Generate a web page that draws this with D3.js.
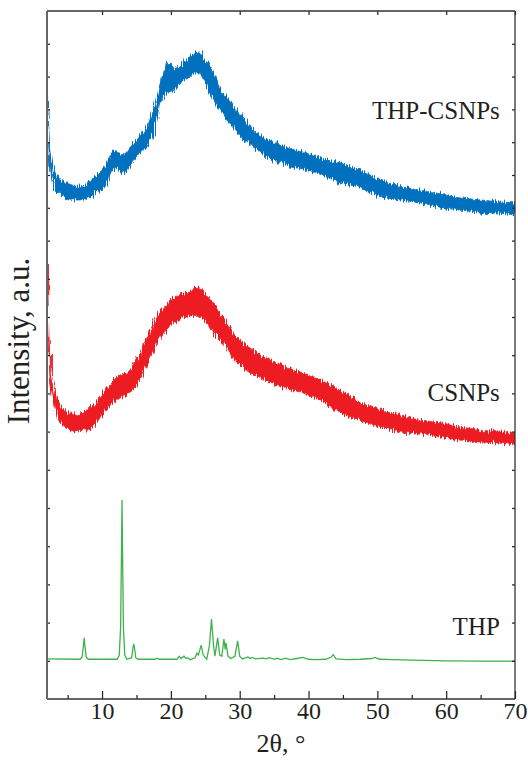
<!DOCTYPE html>
<html><head><meta charset="utf-8">
<script src="https://cdn.jsdelivr.net/npm/d3@7"></script>
<style>
html,body{margin:0;padding:0;background:#fff;}
text{font-family:"Liberation Serif","Times New Roman",serif;fill:#231f20;}
</style></head>
<body><svg id="chart" width="528" height="774"></svg>
<script>
// ---- data (intensity in a.u., one unit per y tick) ----
const xMajorTicks = [10, 20, 30, 40, 50, 60, 70];
const xMinorTicks = [5, 15, 25, 35, 45, 55, 65];
const yTicks = [1,2,3,4,5,6,7,8,9,10,11,12,13,14,15,16,17,18];
const seriesLabels = ["THP-CSNPs", "CSNPs", "THP"];

// THP-CSNPs (blue): 2θ, upper and lower edge of the noisy trace
const thpcsnpsX  = [2.05,2.2,2.4,2.7,3.2,3.9,4.5,5.3,6.0,6.8,7.5,8.3,9.0,9.7,10.7,11.3,11.8,12.3,12.9,13.6,14.5,15.5,16.5,17.5,18.4,19.0,19.4,20.4,21.3,22.3,23.3,24.2,25.2,26.2,27.1,28.1,29.1,30.0,32.0,33.9,35.9,37.3,40.0,42.0,44.6,47.5,50.4,53.3,56.2,59.1,62.0,64.9,67.8,70.0];
const thpcsnpsHi = [16.50,15.68,14.76,14.37,14.09,13.85,13.76,13.73,13.66,13.66,13.70,13.82,13.94,14.09,14.37,14.61,14.76,14.67,14.58,14.70,14.98,15.16,15.43,15.98,16.68,17.20,17.45,17.25,17.32,17.51,17.72,17.75,17.45,17.11,16.68,16.38,16.07,15.89,15.37,15.07,14.91,14.80,14.64,14.50,14.37,14.15,13.85,13.66,13.54,13.42,13.30,13.24,13.18,13.15];
const thpcsnpsLo = [16.13,15.07,14.30,13.91,13.54,13.39,13.30,13.27,13.24,13.24,13.27,13.33,13.42,13.54,13.70,14.09,14.27,14.15,14.06,14.09,14.37,14.67,14.85,15.28,16.20,16.44,16.53,16.55,16.77,16.96,17.11,17.11,16.68,16.29,15.98,15.68,15.46,15.16,14.85,14.55,14.37,14.25,14.15,14.00,13.76,13.63,13.33,13.24,13.15,13.02,12.93,12.87,12.84,12.78];

// CSNPs (red)
const csnpsX  = [2.05,2.2,2.4,2.7,3.2,3.9,4.5,5.3,6.0,6.8,7.5,8.3,9.0,9.7,10.5,11.2,12.0,12.6,13.3,14.1,15.5,17.0,18.4,19.9,21.4,22.8,23.8,25.0,26.4,27.9,29.3,30.8,33.0,35.9,38.8,41.7,44.6,47.5,50.4,53.3,56.2,59.1,62.0,64.9,67.8,70.0];
const csnpsHi = [11.41,10.00,8.95,8.43,8.01,7.70,7.57,7.49,7.43,7.46,7.51,7.62,7.75,7.93,8.09,8.22,8.40,8.48,8.51,8.61,9.01,9.66,10.13,10.45,10.58,10.65,10.79,10.60,10.31,9.92,9.53,9.27,9.01,8.74,8.56,8.35,8.09,7.75,7.57,7.43,7.30,7.23,7.12,7.04,6.99,6.96];
const csnpsLo = [10.84,9.53,8.48,7.96,7.57,7.25,7.12,7.04,6.99,7.02,7.04,7.09,7.20,7.36,7.57,7.70,7.83,7.88,7.93,8.01,8.35,8.93,9.45,9.79,9.97,10.03,10.05,9.92,9.53,9.27,8.87,8.61,8.40,8.19,8.04,7.83,7.49,7.30,7.12,6.99,6.96,6.86,6.78,6.73,6.70,6.65];

// THP (green) powder pattern
const thpX = [2.0,6.8,7.1,7.3,7.4,7.5,7.7,8.0,12.2,12.5,12.7,12.85,12.9,12.95,13.1,13.3,13.6,14.3,14.5,14.6,14.7,14.9,15.2,17.7,18.0,18.3,20.9,21.2,21.5,21.9,22.2,22.4,22.8,23.5,23.8,24.0,24.4,24.7,25.2,25.6,25.9,26.2,26.4,26.8,27.1,27.4,27.7,27.9,28.0,28.3,28.7,29.3,29.7,30.0,30.4,31.2,31.5,31.8,32.3,33.4,33.9,34.3,35.1,35.4,36.0,36.7,37.3,38.3,39.2,40.0,41.0,42.5,43.3,43.6,44.0,45.5,47.5,49.2,49.7,50.3,52.3,55.0,60.0,65.0,70.0];
const thpY = [1.05,1.04,1.10,1.40,1.60,1.40,1.10,1.04,1.04,1.15,1.90,4.30,5.21,4.30,1.90,1.15,1.04,1.08,1.35,1.44,1.35,1.08,1.04,1.04,1.07,1.04,1.04,1.12,1.06,1.12,1.06,1.08,1.03,1.08,1.20,1.15,1.41,1.15,1.04,1.40,2.09,1.40,1.12,1.60,1.15,1.12,1.57,1.30,1.47,1.12,1.06,1.12,1.52,1.12,1.05,1.10,1.06,1.09,1.05,1.07,1.05,1.08,1.04,1.07,1.03,1.07,1.03,1.06,1.09,1.04,1.03,1.04,1.10,1.16,1.05,1.03,1.04,1.06,1.09,1.04,1.03,1.02,1.00,0.99,0.99];

// ---- chart ----
const svg = d3.select("#chart");
const L = 47, R = 515, T = 11, B = 699;
const x = d3.scaleLinear().domain([2, 70]).range([L, R]);
const y = d3.scaleLinear().domain([0, 12, 19]).range([B, 240.6, T]);

// rendering texture for the noisy detector traces (visual style only)
const defs = svg.append("defs");
const f = defs.append("filter").attr("id", "grain")
  .attr("x", "-2%").attr("y", "-10%").attr("width", "104%").attr("height", "120%")
  .attr("filterUnits", "objectBoundingBox");
f.append("feTurbulence").attr("type", "fractalNoise").attr("baseFrequency", "0.9 0.04")
  .attr("numOctaves", 2).attr("seed", 3).attr("result", "n");
f.append("feDisplacementMap").attr("in", "SourceGraphic").attr("in2", "n")
  .attr("scale", 9).attr("xChannelSelector", "B").attr("yChannelSelector", "R");

const band = (xs, hi, lo) => xs.map((v, i) => ({x: v, hi: hi[i], lo: lo[i]}));
const area = d3.area().x(d => x(d.x)).y0(d => y(d.lo)).y1(d => y(d.hi));

const clip = defs.append("clipPath").attr("id", "plotclip");
clip.append("rect").attr("x", L).attr("y", T).attr("width", R - L).attr("height", B - T);

const g = svg.append("g").attr("clip-path", "url(#plotclip)");
g.append("path").datum(band(thpcsnpsX, thpcsnpsHi, thpcsnpsLo))
  .attr("d", area).attr("fill", "#0070bf").attr("stroke", "#0070bf").attr("stroke-width", 0.8)
  .attr("filter", "url(#grain)");
g.append("path").datum(band(csnpsX, csnpsHi, csnpsLo))
  .attr("d", area).attr("fill", "#ec1c24").attr("stroke", "#ec1c24").attr("stroke-width", 0.8)
  .attr("filter", "url(#grain)");
g.append("path").datum(thpX.map((v, i) => [v, thpY[i]]))
  .attr("d", d3.line().x(d => x(d[0])).y(d => y(d[1])))
  .attr("fill", "none").attr("stroke", "#3cb44b").attr("stroke-width", 1.3);

// axes / frame
const ax = svg.append("g");
ax.append("g").attr("transform", `translate(0,${B})`)
  .call(d3.axisBottom(x).tickValues(xMajorTicks).tickSize(-8).tickPadding(14).tickFormat(d3.format("d")))
  .call(s => s.select(".domain").remove())
  .call(s => s.selectAll("text").attr("font-size", 24).attr("font-family", "Liberation Serif").attr("fill", "#231f20").attr("dy", "0.25em"));
ax.append("g").attr("transform", `translate(0,${B})`)
  .call(d3.axisBottom(x).tickValues(xMinorTicks).tickSize(-4).tickFormat(""))
  .call(s => s.select(".domain").remove());
ax.append("g").attr("transform", `translate(0,${T})`)
  .call(d3.axisTop(x).tickValues(xMajorTicks).tickSize(-4).tickFormat(""))
  .call(s => s.select(".domain").remove());
ax.append("g").attr("transform", `translate(${L},0)`)
  .call(d3.axisLeft(y).tickValues(yTicks).tickSize(-3).tickFormat(""))
  .call(s => s.select(".domain").remove());
ax.append("g").attr("transform", `translate(${R},0)`)
  .call(d3.axisRight(y).tickValues(yTicks).tickSize(-3).tickFormat(""))
  .call(s => s.select(".domain").remove());
ax.selectAll(".tick line").attr("stroke", "#231f20").attr("stroke-width", 1.2);

svg.append("line").attr("x1", L).attr("x2", R).attr("y1", T).attr("y2", T).attr("stroke", "#333").attr("stroke-width", 1.3);
svg.append("line").attr("x1", R).attr("x2", R).attr("y1", T).attr("y2", B).attr("stroke", "#333").attr("stroke-width", 1.3);
svg.append("line").attr("x1", L).attr("x2", R).attr("y1", B).attr("y2", B).attr("stroke", "#333").attr("stroke-width", 1.5);
svg.append("line").attr("x1", L).attr("x2", L).attr("y1", T).attr("y2", B).attr("stroke", "#666").attr("stroke-width", 2);

// series labels
const labelPos = [[70 - 2.2, 15.7], [70 - 2.2, 7.8], [70 - 2.2, 1.67]];
svg.selectAll("text.lab").data(seriesLabels).join("text").attr("class", "lab")
  .attr("x", (d, i) => x(labelPos[i][0])).attr("y", (d, i) => y(labelPos[i][1]))
  .attr("text-anchor", "end").attr("font-size", 25).text(d => d);

// axis titles
svg.append("text").attr("x", (L + R) / 2).attr("y", 752).attr("text-anchor", "middle")
  .attr("font-size", 26).text("2θ, °");
svg.append("text").attr("transform", "translate(29,341) rotate(-90)").attr("text-anchor", "middle")
  .attr("font-size", 31).text("Intensity, a.u.");
</script></body></html>
